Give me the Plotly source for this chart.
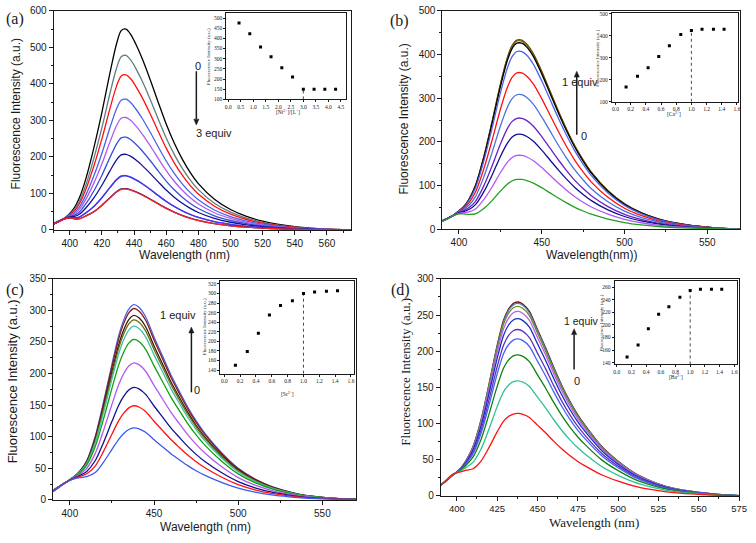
import plotly.graph_objects as go

W, H = 756, 543

# ---------------- data ----------------
WL = [390, 394, 397, 400, 403, 406, 410, 415, 420, 425, 429, 432, 435, 438, 441, 445,
      450, 455, 460, 465, 470, 475, 480, 490, 500, 510, 520, 530, 540, 550, 560, 570, 575]

# (a) Ni2+ titration: top spectrum, low-wavelength shoulder, peak intensities
A_TOP = [18, 26, 33, 45, 62, 88, 140, 225, 322, 430, 508, 546, 550, 535, 510, 470,
         412, 350, 290, 238, 194, 157, 127, 84, 56, 37, 24, 15, 9, 5, 2.5, 1, 0.5]
A_SHOULDER = [15, 24, 30, 30, 22, 16, 12, 5, 2] + [0] * 24
A_PEAKS = [550, 478, 425, 358, 308, 254, 207, 149, 148, 113, 112]
A_COLORS = ["#000000", "#5f7f7f", "#ff1010", "#4a62e8", "#b25af0", "#3a4fd8",
            "#10109a", "#7a3ac8", "#3a3af0", "#1a1a80", "#ff2020"]

# (b) Ca2+
B_TOP = [20, 27, 33, 42, 52, 68, 100, 165, 245, 330, 388, 418, 431, 431, 422, 400,
         360, 315, 270, 228, 190, 158, 130, 88, 58, 38, 24, 15, 9, 5, 2, 1, 0.5]
B_SHOULDER = [17, 25, 31, 33, 29, 22, 12, 5, 1] + [0] * 24
B_PEAKS = [433, 431, 426, 407, 358, 308, 254, 217, 169, 114]
B_COLORS = ["#8b2a10", "#6b6b00", "#000000", "#4a62ee", "#ff1010", "#4a72e0",
            "#6a22c8", "#101090", "#b458f2", "#20a020"]

# (c) Sr2+
C_TOP = [15, 22, 27, 32, 38, 46, 62, 100, 155, 215, 260, 285, 302, 309, 305, 290,
         258, 228, 198, 172, 147, 125, 106, 75, 50, 33, 21, 13, 7, 4, 2, 1, 0.5]
C_SHOULDER = [12, 20, 26, 30, 31, 29, 22, 10, 4, 1] + [0] * 23
C_PEAKS = [309, 303, 292, 285, 275, 254, 217, 178, 149, 114]
C_COLORS = ["#4a62e8", "#8b1a1a", "#3a1a0a", "#6b6b10", "#40c0a0", "#10a010",
            "#b458f2", "#101090", "#ff1010", "#3a5af0"]

# (d) Ba2+
D_TOP = [15, 22, 28, 33, 40, 50, 68, 105, 155, 208, 243, 258, 266, 268, 265, 255,
         230, 205, 178, 153, 131, 112, 96, 68, 48, 32, 21, 13, 8, 5, 2.5, 1, 0.5]
D_SHOULDER = [14, 24, 30, 31, 29, 25, 15, 6, 2] + [0] * 24
D_PEAKS = [268, 266, 262, 255, 245, 230, 217, 195, 159, 114]
D_COLORS = ["#7a0000", "#4682b4", "#6b8e23", "#c458f2", "#1030c0", "#6030c0",
            "#4a62f0", "#108010", "#30c095", "#ff1010"]

# insets
A_RATIO = [0.43, 0.86, 1.29, 1.71, 2.14, 2.57, 3.0, 3.43, 3.86, 4.29]
A_INT = [476, 423, 358, 309, 255, 210, 150, 150, 150, 150]
EQ = [0.14, 0.29, 0.43, 0.57, 0.71, 0.86, 1.0, 1.14, 1.29, 1.43]
B_INT = [167, 216, 254, 306, 355, 406, 424, 430, 430, 430]
C_INT = [150, 179, 217, 255, 275, 285, 300, 303, 305, 306]
D_INT = [149, 168, 194, 217, 229, 244, 255, 257, 257, 257]

# ---------------- helpers ----------------
def px(x):
    return x / W


def py(y):
    return 1 - y / H


SANS = "Liberation Sans, Arial, sans-serif"
SERIF = "Liberation Serif, Times New Roman, serif"
INK = "#1a1a1a"

fig = go.Figure()
layout = dict(width=W, height=H, margin=dict(l=0, r=0, t=0, b=0),
              paper_bgcolor="white", plot_bgcolor="white", showlegend=False)
annotations = []
shapes = []


def add_spectra(top, shoulder, peaks, colors, xa, ya):
    pmax = max(top)
    for pk, col in zip(peaks, colors):
        ys = [pk / pmax * (t - s) + s for t, s in zip(top, shoulder)]
        fig.add_trace(go.Scatter(x=WL, y=ys, mode="lines", xaxis=xa, yaxis=ya,
                                 line=dict(color=col, width=1.3, shape="spline", smoothing=0.8),
                                 hoverinfo="skip"))


def main_axes(n, xdom, ydom, xr, yr, xdt, xminor, ydt, yminor, xfont=10):
    ax = dict(domain=[px(xdom[0]), px(xdom[1])], range=xr, showline=True, linecolor=INK,
              linewidth=1, mirror=True, ticks="outside", ticklen=4, tickwidth=1, tickcolor=INK,
              dtick=xdt, tick0=0, minor=dict(ticks="outside", ticklen=2, dtick=xminor, tickcolor=INK),
              showgrid=False, zeroline=False, tickfont=dict(family=SANS, size=xfont, color=INK),
              ticklabeloverflow="allow",
              anchor="y%d" % n if n > 1 else "y")
    ay = dict(domain=[py(ydom[1]), py(ydom[0])], range=yr, showline=True, linecolor=INK,
              linewidth=1, mirror=True, ticks="outside", ticklen=4, tickwidth=1, tickcolor=INK,
              dtick=ydt, tick0=0, minor=dict(ticks="outside", ticklen=2, dtick=yminor, tickcolor=INK),
              showgrid=False, zeroline=False, tickfont=dict(family=SANS, size=10, color=INK),
              anchor="x%d" % n if n > 1 else "x")
    layout["xaxis" if n == 1 else "xaxis%d" % n] = ax
    layout["yaxis" if n == 1 else "yaxis%d" % n] = ay


def inset_axes(n, xdom, ydom, xr, yr, xdt, ydt):
    ax = dict(domain=[px(xdom[0]), px(xdom[1])], range=xr, showline=True, linecolor=INK,
              linewidth=0.8, mirror=True, ticks="outside", ticklen=2, tickwidth=0.7, tickcolor=INK,
              dtick=xdt, tick0=0, tickformat=".1f", showgrid=False, zeroline=False,
              tickfont=dict(family=SERIF, size=5.5, color=INK), anchor="y%d" % n)
    ay = dict(domain=[py(ydom[1]), py(ydom[0])], range=yr, showline=True, linecolor=INK,
              linewidth=0.8, mirror=True, ticks="outside", ticklen=2, tickwidth=0.7, tickcolor=INK,
              dtick=ydt, tick0=0, showgrid=False, zeroline=False,
              tickfont=dict(family=SERIF, size=5.5, color=INK), anchor="x%d" % n)
    layout["xaxis%d" % n] = ax
    layout["yaxis%d" % n] = ay


def add_inset_points(xs, ys, n, xline, yline_lo, yline_hi):
    fig.add_trace(go.Scatter(x=[xline, xline], y=[yline_lo, yline_hi], mode="lines",
                             xaxis="x%d" % n, yaxis="y%d" % n,
                             line=dict(color=INK, width=0.8, dash="dot"), hoverinfo="skip"))
    fig.add_trace(go.Scatter(x=xs, y=ys, mode="markers", xaxis="x%d" % n, yaxis="y%d" % n,
                             marker=dict(symbol="square", size=3, color="#000"), hoverinfo="skip"))


def text(x, y, s, size, family=SANS, angle=0):
    annotations.append(dict(x=px(x), y=py(y), xref="paper", yref="paper", text=s,
                            showarrow=False, xanchor="center", yanchor="middle", textangle=angle,
                            font=dict(family=family, size=size, color=INK)))


def arrow(x, y_head, y_tail):
    d = 1 if y_head > y_tail else -1
    shaft_end = y_head - d * 6
    shapes.append(dict(type="line", xref="paper", yref="paper",
                       x0=px(x), x1=px(x), y0=py(y_tail), y1=py(shaft_end),
                       line=dict(color=INK, width=1.5)))
    path = "M %f %f L %f %f L %f %f Z" % (px(x), py(y_head), px(x - 2.6), py(shaft_end),
                                          px(x + 2.6), py(shaft_end))
    shapes.append(dict(type="path", xref="paper", yref="paper", path=path,
                       fillcolor=INK, line=dict(color=INK, width=0.5)))


# ---------------- panels ----------------
# (a)
main_axes(1, (53.3, 354.3), (5, 229), [390, 575], [0, 600], 20, 10, 100, 50)
add_spectra(A_TOP, A_SHOULDER, A_PEAKS, A_COLORS, "x", "y")
inset_axes(2, (228, 349), (7.5, 95.5), [-0.08, 4.7], [100, 523], 0.5, 50)
add_inset_points(A_RATIO, A_INT, 2, 3.0, 100, 150)

# (b)
main_axes(3, (446.7, 748.3), (5, 228.3), [390, 570], [0, 500], 50, 25, 100, 50)
add_spectra(B_TOP, B_SHOULDER, B_PEAKS, B_COLORS, "x3", "y3")
inset_axes(4, (618, 746), (7, 98), [-0.05, 1.615], [99, 505], 0.2, 100)
add_inset_points(EQ, B_INT, 4, 1.0, 99, 424)

# (c)
main_axes(5, (52.7, 359.3), (279, 505), [390, 570], [0, 350], 50, 25, 50, 25)
add_spectra(C_TOP, C_SHOULDER, C_PEAKS, C_COLORS, "x5", "y5")
inset_axes(6, (222, 357), (281, 376), [-0.05, 1.635], [132.4, 326.7], 0.2, 20)
add_inset_points(EQ, C_INT, 6, 1.0, 132.4, 300)

# (d)
main_axes(7, (445, 747), (279, 501), [390, 575], [0, 300], 25, 12.5, 50, 25, xfont=9.5)
add_spectra(D_TOP, D_SHOULDER, D_PEAKS, D_COLORS, "x7", "y7")
inset_axes(8, (621, 745), (281, 366.5), [-0.03, 1.64], [137.2, 270.4], 0.2, 20)
add_inset_points(EQ, D_INT, 8, 1.0, 137.2, 255)

# ---------------- texts ----------------
FI = "Fluorescence Intensity (a.u.)"
text(15, 110, FI, 12, SANS, -90)
text(186, 255, "Wavelength (nm)", 12, SANS)
text(408, 116, FI, 12, SANS, -90)
text(598, 255, "Wavelength(nm))", 12, SANS)
text(12, 384, FI, 13, SANS, -90)
text(207, 533, "Wavelength (nm)", 12, SANS)
text(410, 374, FI, 13, SERIF, -90)
text(600, 528, "Wavelength (nm)", 13, SERIF)

# inset titles
text(210, 52, FI, 5, SERIF, -90)
text(290, 108, "[Ni<sup>2+</sup>]/[L<sup>+</sup>]", 5.5, SERIF)
text(604, 53, FI, 5, SERIF, -90)
text(681, 110, "[Ca<sup>2+</sup>]", 5.5, SERIF)
text(206, 328, FI, 5, SERIF, -90)
text(290, 397, "[Sr<sup>2+</sup>]", 5.5, SERIF)
text(608, 324, FI, 5, SERIF, -90)
text(683, 379, "[Ba<sup>2+</sup>]", 5.5, SERIF)

# panel letters
text(14, 13, "(a)", 16, SERIF)
text(403, 15, "(b)", 16, SERIF)
text(14, 290, "(c)", 16, SERIF)
text(404, 290, "(d)", 16, SERIF)

# arrows and equivalents
arrow(197.7, 121.7, 66.7)
text(199, 61, "0", 11)
text(216, 130, "3 equiv", 11)
arrow(582.7, 66.7, 131.7)
text(586, 78, "1 equiv", 11)
text(590, 133, "0", 11)
arrow(192.7, 328.3, 395)
text(179, 316, "1 equiv", 11)
text(198, 393, "0", 11)
arrow(580, 330, 371.7)
text(587, 322, "1 equiv", 10.5)
text(583, 383, "0", 11)

layout["annotations"] = annotations
layout["shapes"] = shapes
fig.update_layout(**layout)
fig.write_html("out.html", config={"displayModeBar": False},
               post_script="document.body.style.margin='0';document.body.style.padding='0';")
